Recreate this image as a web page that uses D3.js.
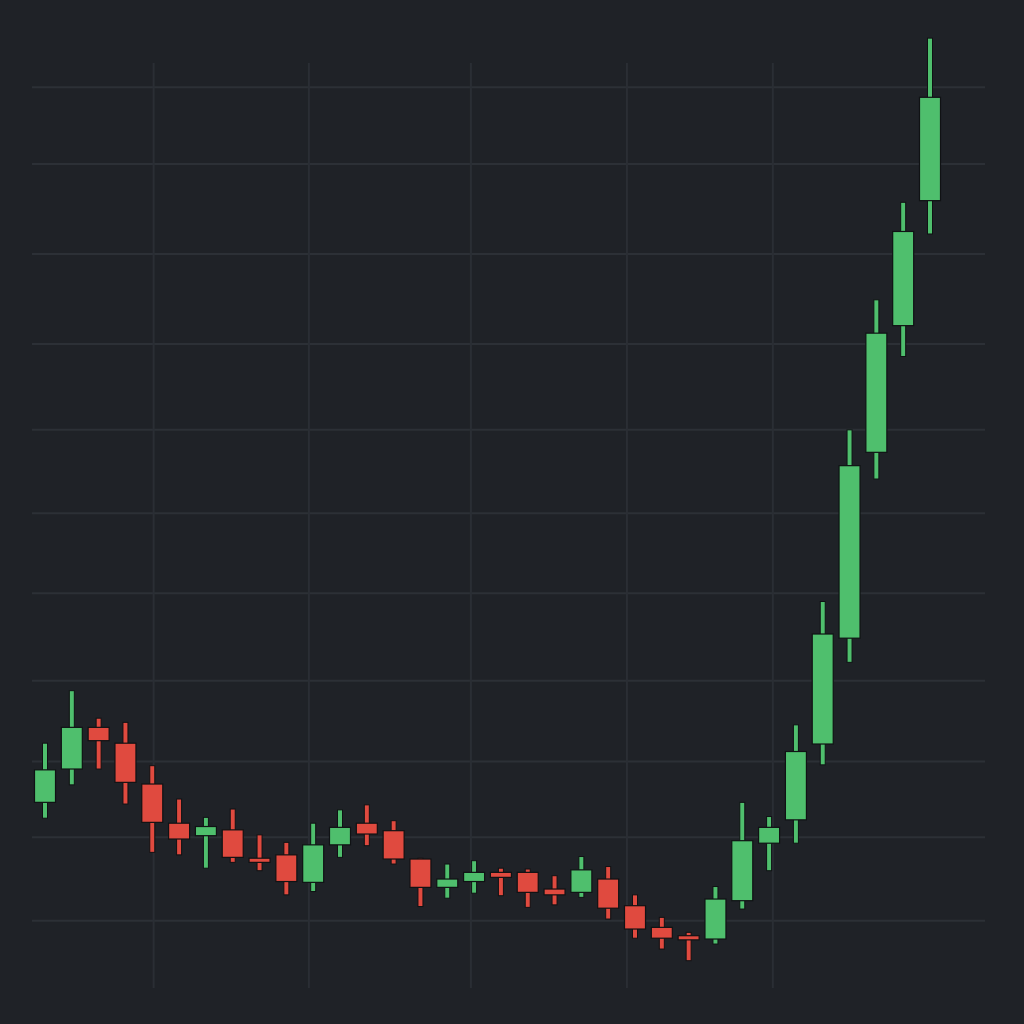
<!DOCTYPE html>
<html>
<head>
<meta charset="utf-8">
<script src="https://cdn.jsdelivr.net/npm/d3@7"></script>
<style>
  html, body { margin: 0; padding: 0; background: #1f2227; }
  svg { display: block; }
</style>
</head>
<body>
<div class="canvas"></div>
<script>
// candle values, one entry per session
const opens  = [114.2, 118.2, 123.2, 121.3, 116.4, 111.7, 110.2, 110.9, 107.5, 107.9,
                104.6, 109.1, 111.7, 110.8, 107.4, 104.0, 104.7, 105.8, 105.8, 103.8,
                103.4, 105.0, 101.8,  99.2,  98.2,  97.8, 102.4, 109.3, 112.1, 121.2,
                133.9, 156.2, 171.4, 186.4];
const highs  = [121.3, 127.6, 124.3, 123.8, 118.6, 114.6, 112.4, 113.4, 110.3, 109.4,
                111.7, 113.3, 113.9, 112.0, 107.5, 106.8, 107.2, 106.3, 106.2, 105.4,
                107.7, 106.5, 103.1, 100.4,  98.6, 104.1, 114.2, 112.5, 123.5, 138.3,
                158.9, 174.5, 186.2, 205.9];
const lows   = [112.3, 116.3, 118.2, 114.0, 108.2, 107.9, 106.3, 107.0, 106.0, 103.1,
                103.5, 107.6, 109.0, 106.8, 101.7, 102.7, 103.3, 103.0, 101.6, 101.9,
                102.8, 100.2,  97.9,  96.6,  95.2,  97.2, 101.4, 106.0, 109.3, 118.7,
                131.0, 153.0, 167.7, 182.4];
const closes = [118.1, 123.2, 121.6, 116.6, 111.8, 109.8, 111.3, 107.6, 107.0, 104.7,
                109.1, 111.2, 110.4, 107.4, 104.0, 105.0, 105.8, 105.2, 103.4, 103.1,
                106.1, 101.5,  99.0,  97.9,  97.7, 102.6, 109.6, 111.2, 120.3, 134.4,
                154.6, 170.5, 182.7, 198.8];

// grid line values (price) and session positions of the vertical grid lines
const priceGrid = [100, 110, 119.1, 128.8, 139.3, 148.9, 158.9, 169.2, 180, 190.8, 200];
const timeGrid = [4.05, 9.84, 15.88, 21.7, 27.14];

const width = 1024, height = 1024;
const grid = { left: 32, right: 985, top: 63, bottom: 988 };

const candles = opens.map((o, i) => ({
  i: i, open: o, high: highs[i], low: lows[i], close: closes[i]
}));

const svg = d3.select('.canvas')
  .append('svg')
  .attr('width', width)
  .attr('height', height);

svg.append('rect')
  .attr('width', width)
  .attr('height', height)
  .attr('fill', '#1f2227');

const x = d3.scaleLinear().domain([0, candles.length - 1]).range([45, 930]);
const y = d3.scaleLinear().domain([100, 200]).range([920.7, 87.3]);

const gridG = svg.append('g').attr('class', 'grid');

gridG.selectAll('line.h')
  .data(priceGrid)
  .enter()
  .append('line')
  .attr('class', 'h')
  .attr('x1', grid.left)
  .attr('x2', grid.right)
  .attr('y1', d => y(d))
  .attr('y2', d => y(d))
  .attr('stroke', '#2c3036')
  .attr('stroke-width', 2);

gridG.selectAll('line.v')
  .data(timeGrid)
  .enter()
  .append('line')
  .attr('class', 'v')
  .attr('x1', d => x(d))
  .attr('x2', d => x(d))
  .attr('y1', grid.top)
  .attr('y2', grid.bottom)
  .attr('stroke', '#2a2e34')
  .attr('stroke-width', 2);

const up = '#4fbf6d';
const down = '#e04a3f';
const colour = d => d.close >= d.open ? up : down;

const bodyWidth = 21;
const wickWidth = 5;

const candleG = svg.append('g').attr('class', 'candles');

const c = candleG.selectAll('g')
  .data(candles)
  .enter()
  .append('g');

// wick
c.append('rect')
  .attr('x', d => x(d.i) - wickWidth / 2)
  .attr('y', d => y(d.high))
  .attr('width', wickWidth)
  .attr('height', d => Math.max(1, y(d.low) - y(d.high)))
  .attr('fill', colour)
  .attr('stroke', '#101214')
  .attr('stroke-width', 1);

// body
c.append('rect')
  .attr('x', d => x(d.i) - bodyWidth / 2)
  .attr('y', d => y(Math.max(d.open, d.close)))
  .attr('width', bodyWidth)
  .attr('height', d => Math.max(4, Math.abs(y(d.open) - y(d.close))))
  .attr('fill', colour)
  .attr('stroke', '#101214')
  .attr('stroke-width', 1.2);
</script>
</body>
</html>
